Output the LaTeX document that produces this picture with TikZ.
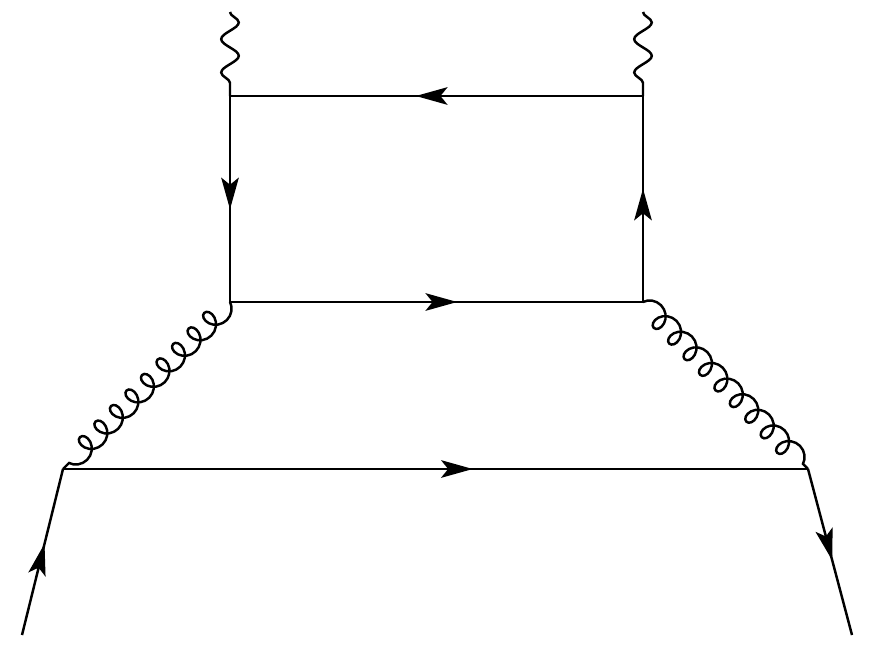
\documentclass[tikz,border=0pt]{standalone}
\usepackage{tikz}
\usetikzlibrary{arrows.meta, decorations.markings, decorations.pathmorphing}

\begin{document}
\begin{tikzpicture}[x=0.02cm, y=-0.02cm, line width=1.4pt,
    fermion/.style={postaction={decorate}, decoration={markings,
        mark=at position 0.55 with {\arrow{Stealth[length=18pt, width=10pt, inset=4pt]}}}},
    photon/.style={decorate, decoration={snake, amplitude=5pt,
        segment length=19pt}},
    gluon/.style={decorate, decoration={coil, aspect=0.9, amplitude=6pt,
        segment length=12.5pt}}]

  \useasboundingbox (0,0) rectangle (872,649);

  \coordinate (Pl) at (230,12);
  \coordinate (Pr) at (643,12);
  \coordinate (TL) at (230,96);
  \coordinate (TR) at (643,96);
  \coordinate (BL) at (230,302);
  \coordinate (BR) at (643,302);
  \coordinate (VL) at (63,469);
  \coordinate (VR) at (808,469);
  \coordinate (In) at (22,635);
  \coordinate (Out) at (852,635);

  \draw[photon] (Pl) -- (TL);
  \draw[photon] (Pr) -- (TR);

  \draw[fermion] (TR) -- (TL);
  \draw[fermion] (TL) -- (BL);
  \draw[fermion] (BL) -- (BR);
  \draw[fermion] (BR) -- (TR);

  \draw[gluon] (BL) -- (VL);
  \draw[gluon] (BR) -- (VR);

  \draw[fermion] (In) -- (VL);
  \draw[fermion] (VL) -- (VR);
  \draw[fermion] (VR) -- (Out);
\end{tikzpicture}
\end{document}
